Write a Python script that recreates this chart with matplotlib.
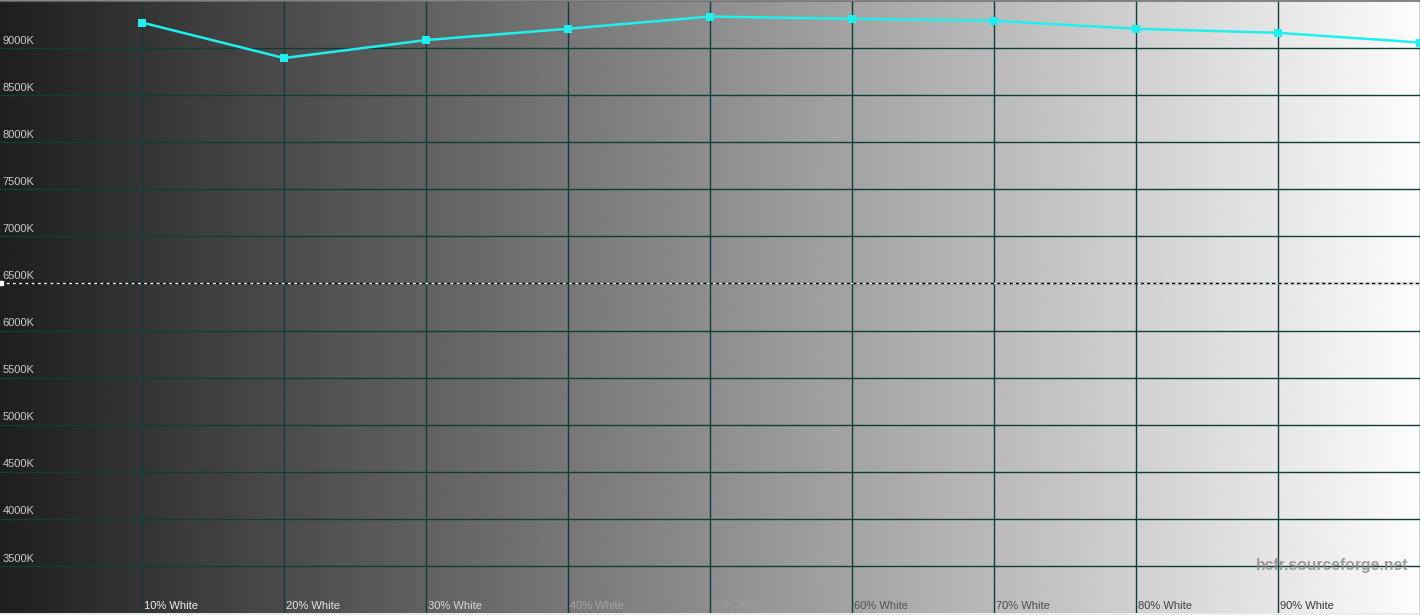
import numpy as np
import matplotlib
matplotlib.use("Agg")
import matplotlib.pyplot as plt

# colour temperature readings of the greyscale ramp
levels = [10, 20, 30, 40, 50, 60, 70, 80, 90, 100]
cct = [9271, 8894, 9085, 9205, 9335, 9311, 9290, 9205, 9162, 9059]
x_labels = ["10% White", "20% White", "30% White", "40% White", "50% White",
            "60% White", "70% White", "80% White", "90% White"]
y_ticks = [3500, 4000, 4500, 5000, 5500, 6000, 6500, 7000, 7500, 8000, 8500, 9000]
target = 6500

# label colours as drawn on the grey ramp
x_label_colors = ["#f2f2f2", "#e4e4e4", "#d8d8d8", "#a4a4a4", "#9c9c9c",
                  "#555555", "#4c4c4c", "#444444", "#383838"]

plt.rcParams['lines.scale_dashes'] = False
W, H = 1420, 615
fig = plt.figure(figsize=(W / 100, H / 100), dpi=100, facecolor="#ececec")
ax = fig.add_axes([0, 2 / H, 1, 612 / H])
ax.set_xlim(0, 100)
ax.set_ylim(3000, 9500)
ax.axis("off")

# grey ramp background
ramp = np.linspace(0.12, 0.99, 512).reshape(1, -1)
ax.imshow(ramp, cmap="gray", vmin=0, vmax=1, aspect="auto",
          extent=[0, 100, 3000, 9500], zorder=0, interpolation="bilinear")

grid_c = "#113c3c"
for v in y_ticks:
    ax.axhline(v, color=grid_c, lw=1.0, zorder=1)
for lv in levels:
    ax.axvline(lv, color=grid_c, lw=1.0, zorder=1)

# target line, alternating white / black dashes
ax.axhline(target, color="white", lw=0.9, linestyle=(0, (2.5, 2.0)), zorder=2)
ax.axhline(target, color="black", lw=0.9, linestyle=(2.5, (2.0, 2.5)), zorder=2)
ax.plot([0.05], [target], marker="s", ms=3.5, color="white", zorder=3, clip_on=False)

for v in y_ticks:
    ax.text(0.2, v + 25, f"{v}K", color="#cccccc", fontsize=8,
            family="Liberation Sans", ha="left", va="bottom", zorder=4)

for lv, lab, c in zip(levels, x_labels, x_label_colors):
    ax.text(lv + 0.12, 3020, lab, color=c, fontsize=8,
            family="Liberation Sans", ha="left", va="bottom", zorder=4)

ax.text(99.2, 3500, "hcfr.sourceforge.net", color="#8c8c8c", alpha=0.85,
        fontsize=11.3, fontweight="bold", family="Liberation Sans",
        ha="right", va="center", zorder=4)

ax.plot(levels, cct, color="#1ef0f0", lw=1.8, marker="s", ms=6,
        markeredgewidth=0, zorder=5, clip_on=False)

# window border line at the top
fig.add_artist(plt.Line2D([0, 1], [1 - 0.5 / H, 1 - 0.5 / H], color="#707070", lw=1.2))

fig.savefig("out.png", dpi=100, facecolor=fig.get_facecolor())
